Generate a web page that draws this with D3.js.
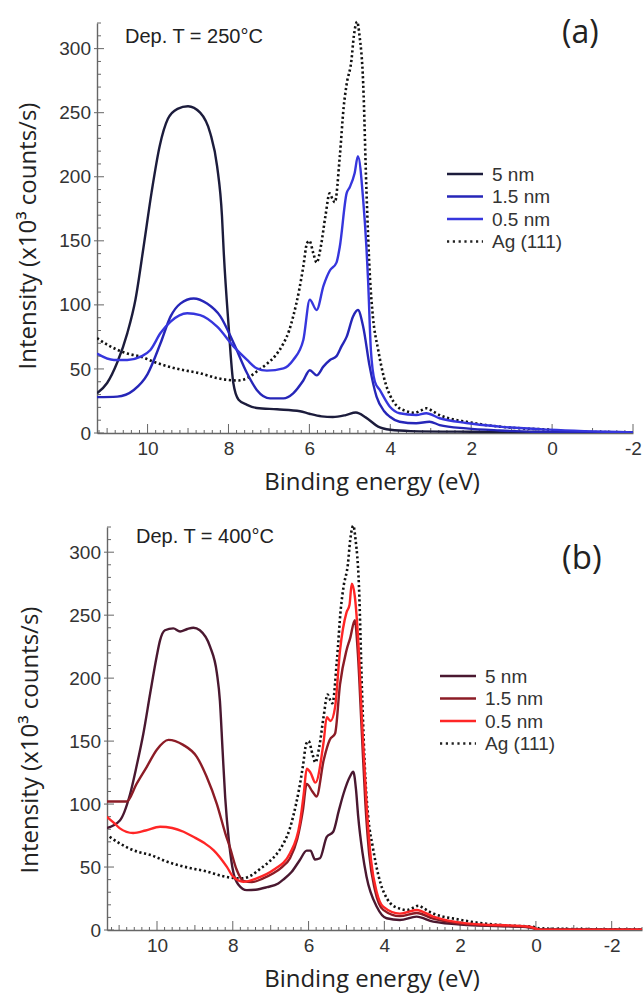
<!DOCTYPE html>
<html>
<head>
<meta charset="utf-8">
<script src="https://cdn.jsdelivr.net/npm/d3@7"></script>
<style>
  body { margin: 0; background: #fff; }
  svg { display: block; }
</style>
</head>
<body>
<script>
// ---- data (binding energy in eV, intensity in 10^3 counts/s) ----
var agE = [11.25, 11.0, 10.75, 10.5, 10.17, 9.8, 9.5, 9.1, 8.7, 8.3, 8.0, 7.75, 7.5, 7.3, 7.05, 6.85, 6.64, 6.5, 6.4, 6.25, 6.15, 6.06, 6.0, 5.9, 5.82, 5.72, 5.6, 5.5, 5.42, 5.37, 5.25, 5.15, 5.08, 4.96, 4.9, 4.82, 4.76, 4.67, 4.59, 4.5, 4.43, 4.3, 4.22, 4.1, 4.0, 3.85, 3.6, 3.4, 3.25, 3.1, 2.95, 2.78, 2.5, 2.12, 1.7, 1.31, 0.7, 0.07, -0.1, -1.0, -2.0, -2.8];
var agV = [74, 69, 65, 62, 59.6, 55, 52, 49, 46.6, 43, 41.4, 41, 43.5, 48, 54, 60, 70, 80, 91, 112, 130, 148, 150, 140, 133, 145, 170, 187, 182, 180, 215, 255, 272, 291, 310, 321, 310, 273, 190, 120, 91, 65, 52, 37, 29, 21.5, 17, 15.8, 17.5, 19.3, 17, 14, 11, 8.8, 6.5, 5, 3.5, 2.6, 1.2, 0.8, 0.5, 0.4];

// panel (a), 250 C
var a5E = [11.25, 11.0, 10.75, 10.5, 10.3, 10.1, 9.9, 9.7, 9.5, 9.26, 9.0, 8.7, 8.45, 8.28, 8.16, 8.12, 8.0, 7.88, 7.75, 7.54, 7.3, 6.8, 6.23, 6.0, 5.7, 5.42, 5.1, 4.85, 4.6, 4.3, 4.0, 3.5, 2.0, 0.0, -2.0];
var a5V = [31, 39, 55, 78, 104, 145, 188, 224, 245, 253, 255, 250, 234, 208, 169, 143, 85, 39, 26, 22, 19.5, 18.5, 17, 15, 13, 12.5, 14, 16, 12, 5, 2.5, 1.5, 1, 0.7, 0.5];
var a15E = [11.25, 10.75, 10.34, 10.0, 9.68, 9.43, 9.19, 8.86, 8.53, 8.2, 7.87, 7.54, 7.3, 6.97, 6.64, 6.4, 6.15, 5.99, 5.82, 5.65, 5.49, 5.33, 5.2, 5.08, 4.92, 4.8, 4.67, 4.51, 4.34, 4.15, 4.01, 3.77, 3.36, 3.03, 2.78, 2.12, 1.3, 0.48, -2.0];
var a15V = [28, 28.4, 33.6, 46, 70, 91, 101, 105, 101, 91, 70, 46.6, 33.6, 27, 27, 31, 41, 49, 45, 52, 57, 60, 68, 75, 91, 96, 83, 52, 28.4, 17, 12.7, 8.8, 7.6, 8.8, 6.2, 3.6, 2, 1, 0.3];
var a05E = [11.25, 10.83, 10.5, 10.17, 9.93, 9.68, 9.43, 9.02, 8.7, 8.28, 7.87, 7.54, 7.3, 7.05, 6.64, 6.4, 6.15, 5.99, 5.82, 5.65, 5.49, 5.33, 5.25, 5.08, 5.0, 4.88, 4.8, 4.67, 4.59, 4.55, 4.48, 4.38, 4.26, 4.01, 3.77, 3.36, 3.11, 2.78, 2.12, 1.3, 0.07, -2.0];
var a05V = [62, 57, 57, 59.6, 64.8, 78, 87, 93.5, 92, 83, 67.4, 57, 50.5, 48.7, 50.5, 57, 72.6, 104, 96, 115, 127, 133, 145, 187, 192, 203, 216, 182, 145, 120, 65, 40, 33.6, 20.5, 15.4, 14, 15.4, 11.5, 7.8, 5, 2.6, 0.5];

// panel (b), 400 C
var b5E = [11.33, 10.98, 10.71, 10.54, 10.36, 10.18, 10.01, 9.92, 9.79, 9.57, 9.39, 9.2, 9.04, 8.87, 8.6, 8.42, 8.34, 8.27, 8.2, 8.1, 7.98, 7.85, 7.63, 7.4, 7.1, 6.8, 6.67, 6.45, 6.23, 6.05, 5.95, 5.83, 5.7, 5.52, 5.35, 5.2, 5.08, 4.91, 4.82, 4.75, 4.69, 4.58, 4.47, 4.2, 3.94, 3.59, 3.15, 2.71, 1.83, 0.25, -0.1, -2.8];
var b5V = [81, 87, 108, 130, 156, 188, 217, 230, 238, 239.5, 237, 239, 240, 238, 225, 204, 182, 143, 105, 70, 45, 36, 31.7, 32, 34, 37, 40, 46, 55.6, 63, 63, 56, 57, 74, 78, 95, 108, 121.7, 125.6, 112, 90, 62, 42.3, 18.5, 9.3, 8, 10.6, 6.6, 4, 2.4, 0.5, 0.3];
var b15E = [11.33, 10.8, 10.54, 10.27, 10.01, 9.7, 9.31, 8.95, 8.69, 8.42, 8.2, 8.07, 7.9, 7.72, 7.5, 7.2, 6.93, 6.7, 6.49, 6.3, 6.15, 6.05, 5.9, 5.79, 5.6, 5.44, 5.3, 5.17, 5.0, 4.9, 4.78, 4.7, 4.6, 4.5, 4.4, 4.25, 4.03, 3.59, 3.15, 2.71, 1.83, 0.16, -0.1, -2.8];
var b15V = [102, 102, 116, 129.6, 143, 151, 147, 137.5, 121.7, 100, 77, 65, 48, 39, 38, 41, 45, 50, 57, 72, 95, 116, 110, 106, 135, 151, 156, 195, 222, 232, 246, 220, 160, 100, 60, 32, 16, 11, 13.5, 9, 4.5, 2.2, 0.3, 0.2];
var b05E = [11.33, 11.1, 10.98, 10.63, 10.3, 9.92, 9.6, 9.3, 9.04, 8.75, 8.51, 8.16, 7.99, 7.72, 7.37, 6.93, 6.49, 6.23, 6.12, 6.05, 5.95, 5.82, 5.6, 5.52, 5.42, 5.3, 5.17, 5.0, 4.92, 4.86, 4.78, 4.69, 4.58, 4.47, 4.35, 4.2, 4.03, 3.59, 3.15, 2.71, 1.83, 0.16, -0.1, -2.8];
var b05V = [90, 84, 80.7, 77, 79, 82, 81, 78, 74, 69, 63.5, 50.3, 42.3, 38.3, 41, 47.6, 61, 85, 110, 128, 125, 117, 150, 169, 166, 177, 222, 252, 258, 275, 265, 230, 160, 100, 55, 30, 18.5, 13, 15.9, 10.6, 5.3, 2.6, 0.3, 0.2];

var legendLabels = ["5 nm", "1.5 nm", "0.5 nm", "Ag (111)"];
var yTicks = [0, 50, 100, 150, 200, 250, 300];
var xTicks = [10, 8, 6, 4, 2, 0, -2];

function pts(E, V) { return E.map(function (e, i) { return [e, V[i]]; }); }

var panels = [
  { id: "a", title: "Dep. T = 250\u00b0C", tag: "(a)",
    xd: [11.25, -2], xr: [97, 633], yr: [433, 23],
    titleX: 125, titleY: 43, tagX: 562, tagY: 43, tagSize: 32,
    ylabX: 36, ylabY: 236, xlabY: 490,
    legX: 447, legY: 174, legText: 492,
    colors: ["#1c1c3c", "#2626b8", "#3636dd"],
    series: [pts(a5E, a5V), pts(a15E, a15V), pts(a05E, a05V)] },
  { id: "b", title: "Dep. T = 400\u00b0C", tag: "(b)",
    xd: [11.32, -2.8], xr: [107, 642], yr: [930, 527],
    titleX: 136, titleY: 543, tagX: 562, tagY: 569, tagSize: 33,
    ylabX: 38, ylabY: 740, xlabY: 987,
    legX: 440, legY: 676, legText: 485,
    colors: ["#4a1830", "#8c1c26", "#ff2626"],
    series: [pts(b5E, b5V), pts(b15E, b15V), pts(b05E, b05V)] }
];

var svg = d3.select("body").append("svg")
  .attr("width", 644)
  .attr("height", 996);

var tickFont = "'Liberation Sans', Arial, sans-serif";
var titleFont = "'Open Sans', 'Noto Sans', sans-serif";

panels.forEach(function (p) {
  var x = d3.scaleLinear().domain(p.xd).range(p.xr);
  var y = d3.scaleLinear().domain([0, 320]).range(p.yr);
  var g = svg.append("g");

  g.append("clipPath").attr("id", "clip-" + p.id)
    .append("rect")
    .attr("x", p.xr[0]).attr("y", p.yr[1] - 5)
    .attr("width", p.xr[1] - p.xr[0]).attr("height", p.yr[0] - p.yr[1] + 5);

  // x axis: major, mid and minor ticks pointing inward
  var xMinor = d3.range(-2.8, 11.4, 0.2).map(function (v) { return Math.round(v * 10) / 10; })
    .filter(function (v) { return v >= Math.min(p.xd[0], p.xd[1]) && v <= Math.max(p.xd[0], p.xd[1]); });
  g.append("g").selectAll("line").data(xMinor).enter().append("line")
    .attr("x1", function (d) { return x(d); }).attr("x2", function (d) { return x(d); })
    .attr("y1", p.yr[0])
    .attr("y2", function (d) {
      if (Math.abs(d % 2) < 0.01) return p.yr[0] - 9;
      if (Math.abs(d % 1) < 0.01) return p.yr[0] - 5;
      return p.yr[0] - 3;
    })
    .attr("stroke", "#666").attr("stroke-width", 1);

  var xAxis = d3.axisBottom(x).tickValues(xTicks).tickSize(0).tickPadding(9)
    .tickFormat(function (d) { return d < 0 ? "-" + Math.abs(d) : d; });
  var xa = g.append("g").attr("transform", "translate(0," + p.yr[0] + ")").call(xAxis);
  xa.select(".domain").attr("stroke", "#666").attr("stroke-width", 1.4);
  xa.selectAll("text").attr("font-family", tickFont).attr("font-size", 19).attr("fill", "#333");

  // y axis
  var yMinor = d3.range(0, 321, 10);
  g.append("g").selectAll("line").data(yMinor).enter().append("line")
    .attr("y1", function (d) { return y(d); }).attr("y2", function (d) { return y(d); })
    .attr("x1", function (d) { return d % 50 === 0 ? p.xr[0] - 3 : p.xr[0]; })
    .attr("x2", function (d) { return d % 50 === 0 ? p.xr[0] + 7 : p.xr[0] + 4; })
    .attr("stroke", "#666").attr("stroke-width", 1);

  var yAxis = d3.axisLeft(y).tickValues(yTicks).tickSize(0).tickPadding(6);
  var ya = g.append("g").attr("transform", "translate(" + p.xr[0] + ",0)").call(yAxis);
  ya.select(".domain").attr("stroke", "#666").attr("stroke-width", 1.4);
  ya.selectAll("text").attr("font-family", tickFont).attr("font-size", 19).attr("fill", "#333");

  // curves
  var line = d3.line()
    .x(function (d) { return x(d[0]); })
    .y(function (d) { return y(d[1]); })
    .curve(d3.curveMonotoneX);

  var plot = g.append("g").attr("clip-path", "url(#clip-" + p.id + ")");
  plot.append("path").datum(pts(agE, agV))
    .attr("d", line).attr("fill", "none")
    .attr("stroke", "#111").attr("stroke-width", 2.6)
    .attr("stroke-dasharray", "2.2,2.6");
  p.series.forEach(function (s, i) {
    plot.append("path").datum(s)
      .attr("d", line).attr("fill", "none")
      .attr("stroke", p.colors[i]).attr("stroke-width", 2.4)
      .attr("stroke-linejoin", "round");
  });

  // legend
  legendLabels.forEach(function (lab, i) {
    var ly = p.legY + i * 22.5;
    g.append("line")
      .attr("x1", p.legX).attr("x2", p.legX + 36)
      .attr("y1", ly).attr("y2", ly)
      .attr("stroke", i < 3 ? p.colors[i] : "#222")
      .attr("stroke-width", i < 3 ? 2.4 : 2.6)
      .attr("stroke-dasharray", i < 3 ? null : "2.2,3.6");
    g.append("text")
      .attr("x", p.legText).attr("y", ly)
      .attr("dy", "0.35em")
      .attr("font-family", tickFont).attr("font-size", 19).attr("fill", "#333")
      .text(lab);
  });

  // texts
  g.append("text").attr("x", p.titleX).attr("y", p.titleY)
    .attr("font-family", tickFont).attr("font-size", 20).attr("fill", "#222")
    .text(p.title);
  g.append("text").attr("x", p.tagX).attr("y", p.tagY)
    .attr("font-family", titleFont).attr("font-size", p.tagSize).attr("fill", "#222")
    .text(p.tag);
  g.append("text")
    .attr("x", 372).attr("y", p.xlabY)
    .attr("text-anchor", "middle")
    .attr("font-family", titleFont).attr("font-size", 24).attr("fill", "#222")
    .text("Binding energy (eV)");
  g.append("text")
    .attr("transform", "translate(" + p.ylabX + "," + p.ylabY + ") rotate(-90)")
    .attr("text-anchor", "middle")
    .attr("font-family", titleFont).attr("font-size", 24).attr("fill", "#222")
    .text("Intensity (x10\u00b3 counts/s)");
});
</script>
</body>
</html>
